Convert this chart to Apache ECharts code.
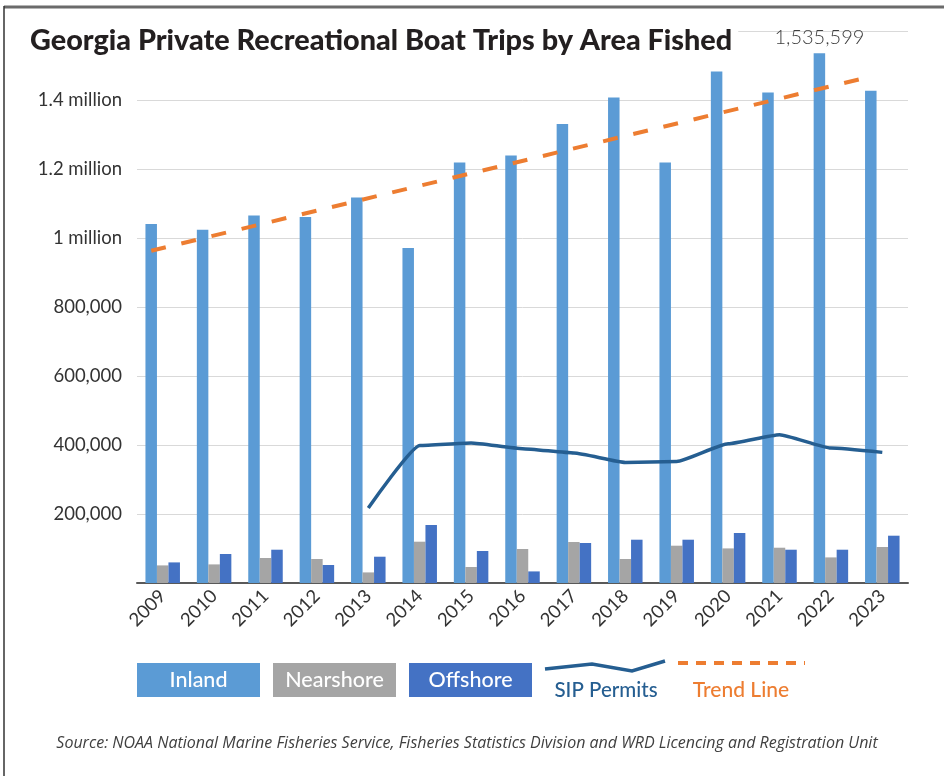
<!DOCTYPE html>
<html>
<head>
<meta charset="utf-8">
<script src="https://cdn.jsdelivr.net/npm/echarts@6/dist/echarts.min.js"></script>
<style>
html,body{margin:0;padding:0;background:#fff;}
#chart{width:944px;height:776px;}
</style>
</head>
<body>
<div id="chart"></div>
<script>
// ---- data ----
const years = ['2009','2010','2011','2012','2013','2014','2015','2016','2017','2018','2019','2020','2021','2022','2023'];
const inland = [1040600, 1024000, 1065500, 1060900, 1117700, 971000, 1219100, 1239400, 1330400, 1407500, 1219100, 1482900, 1422000, 1535599, 1427000];
const nearshore = [51000, 53900, 72500, 69600, 30700, 119700, 46400, 98600, 118800, 69600, 108100, 100300, 102300, 74200, 104300];
const offshore = [59700, 84000, 96500, 52200, 76200, 168100, 92800, 33600, 115900, 125500, 125500, 144900, 96500, 96500, 137100];
const sipPermits = [null, null, null, null, 217400, 398800, 405800, 389300, 376800, 349600, 352500, 403800, 429900, 391300, 378600];
const trendEnds = [963000, 1468000];  // trend line value at first and last year
const yTickLabels = ['', '200,000', '400,000', '600,000', '800,000', '1 million', '1.2 million', '1.4 million', ''];
const labelledYear = '2022';

// ---- layout ----
const W = 944, H = 776;
const GRID = {left: 137, right: 36, top: 31, bottom: 193};
const BAR_W = 11.5;
const catW = (W - GRID.left - GRID.right) / years.length;
const inlandOffset = BAR_W / catW; // inland bar centre relative to category centre
const FONT = 'Lato';

const chart = echarts.init(document.getElementById('chart'), null, {renderer: 'canvas'});

const inlandData = inland.map((v, i) => years[i] === labelledYear ? {
  value: v,
  label: {show: true, position: 'top', distance: 6, formatter: () => v.toLocaleString('en-US'),
          fontFamily: FONT, fontSize: 20, fontWeight: 300, color: '#404040'}
} : v);

const trendData = [[0 - inlandOffset, trendEnds[0]], [years.length - 1 - inlandOffset, trendEnds[1]]];

const legendItems = [];
function box(x, label, color) {
  legendItems.push({type: 'rect', shape: {x: x, y: 663, width: 123, height: 34}, style: {fill: color}});
  legendItems.push({type: 'text', x: x + 61.5, y: 680, style: {text: label, fill: '#fff', font: '500 21.5px ' + FONT, textAlign: 'center', textVerticalAlign: 'middle'}});
}
box(137, 'Inland', '#5B9BD5');
box(273, 'Nearshore', '#A5A5A5');
box(409, 'Offshore', '#4472C4');
legendItems.push({type: 'polyline', shape: {points: [[545, 669], [592, 664], [632, 671], [665, 661]]}, style: {stroke: '#255E91', lineWidth: 3.5, fill: null}});
legendItems.push({type: 'text', x: 606, y: 690, style: {text: 'SIP Permits', fill: '#255E91', font: '500 20.5px ' + FONT, textAlign: 'center', textVerticalAlign: 'middle'}});
legendItems.push({type: 'line', shape: {x1: 678, y1: 663, x2: 805, y2: 663}, style: {stroke: '#ED7D31', lineWidth: 4, lineDash: [10, 8]}});
legendItems.push({type: 'text', x: 741, y: 690, style: {text: 'Trend Line', fill: '#ED7D31', font: '500 21px ' + FONT, textAlign: 'center', textVerticalAlign: 'middle'}});
// frame
legendItems.push({type: 'line', shape: {x1: 4, y1: 7, x2: W, y2: 7}, style: {stroke: '#6b6b6b', lineWidth: 3}});
legendItems.push({type: 'line', shape: {x1: 4, y1: 6, x2: 4, y2: H}, style: {stroke: '#333', lineWidth: 1.5}});
// source
legendItems.push({type: 'text', x: 467, y: 743, style: {text: 'Source: NOAA National Marine Fisheries Service, Fisheries Statistics Division and WRD Licencing and Registration Unit', fill: '#404040', font: 'italic 16px "Open Sans"', textAlign: 'center', textVerticalAlign: 'middle'}});

chart.setOption({
  animation: false,
  backgroundColor: '#fff',
  title: {
    text: 'Georgia Private Recreational Boat Trips by Area Fished',
    left: 26, top: 22,
    padding: [4, 6, 6, 4],
    backgroundColor: '#fff',
    textStyle: {fontFamily: FONT, fontSize: 28.8, fontWeight: 900, color: '#231F20'}
  },
  grid: {left: GRID.left, right: GRID.right, top: GRID.top, bottom: GRID.bottom, containLabel: false},
  xAxis: [{
    type: 'category', data: years,
    axisLine: {lineStyle: {color: '#595959', width: 2}},
    axisTick: {show: false},
    axisLabel: {rotate: 45, fontFamily: FONT, fontSize: 18.5, color: '#333', margin: 10, interval: 0}
  }, {
    type: 'value', min: -0.5, max: years.length - 0.5, show: false
  }],
  yAxis: {
    type: 'value', min: 0, max: 1600000, interval: 200000,
    axisLine: {show: false}, axisTick: {show: false},
    splitLine: {lineStyle: {color: '#D9D9D9', width: 1}},
    axisLabel: {formatter: (v) => yTickLabels[Math.round(v / 200000)] || '', fontFamily: FONT, fontSize: 18.5, color: '#333', margin: 15}
  },
  series: [
    {name: 'Inland', type: 'bar', data: inlandData, barWidth: BAR_W, barGap: '0%', itemStyle: {color: '#5B9BD5'}, z: 2},
    {name: 'Nearshore', type: 'bar', data: nearshore, barWidth: BAR_W, barGap: '0%', itemStyle: {color: '#A5A5A5'}, z: 2},
    {name: 'Offshore', type: 'bar', data: offshore, barWidth: BAR_W, barGap: '0%', itemStyle: {color: '#4472C4'}, z: 2},
    {name: 'SIP Permits', type: 'line', data: sipPermits, symbol: 'none', smooth: 0.15, smoothMonotone: 'x',
     lineStyle: {color: '#255E91', width: 3.5}, z: 3},
    {name: 'Trend Line', type: 'line', xAxisIndex: 1, data: trendData, symbol: 'none',
     lineStyle: {color: '#ED7D31', width: 4, type: [15, 16]}, z: 4}
  ],
  graphic: legendItems
});
</script>
</body>
</html>
